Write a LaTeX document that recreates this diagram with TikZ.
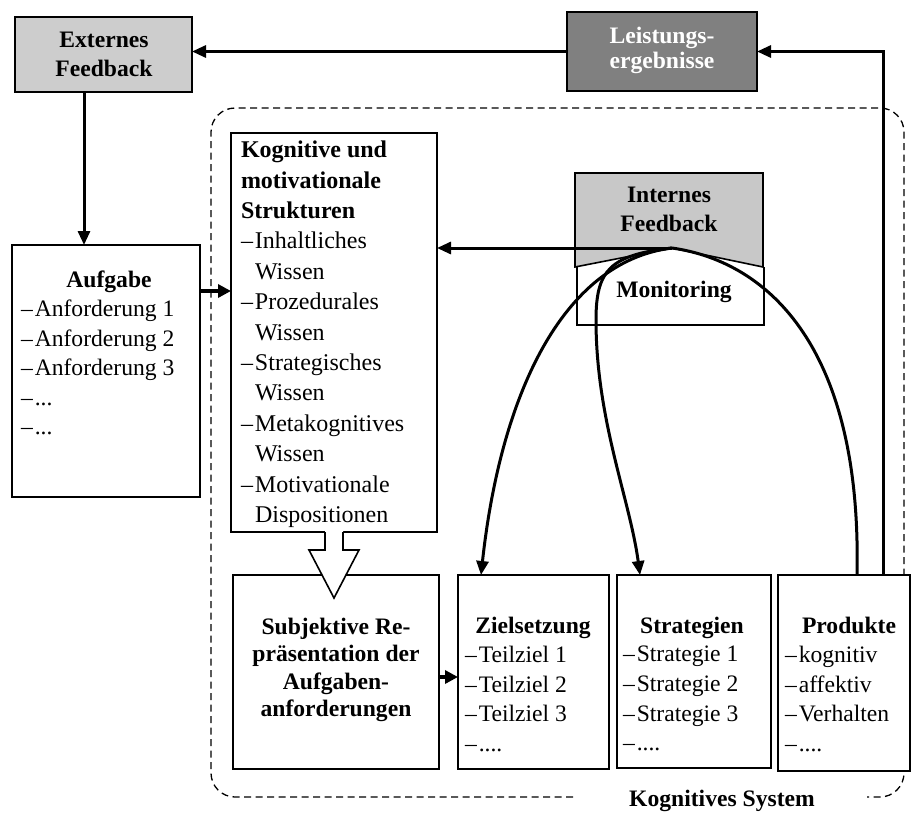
\documentclass[tikz,border=0pt]{standalone}
\usepackage{fontspec}
\setmainfont{Liberation Serif}
\usetikzlibrary{arrows.meta,calc}
\definecolor{lightg}{RGB}{205,205,205}
\definecolor{midg}{RGB}{200,200,200}
\definecolor{darkg}{RGB}{128,128,128}
\begin{document}
\begin{tikzpicture}[x=1pt,y=-1pt,
  every node/.style={inner sep=0pt, outer sep=0pt, font=\fontsize{23.6}{29.5}\selectfont},
  box/.style={draw, line width=1.6pt, fill=white, rectangle},
  head/.style={anchor=north, align=center, font=\bfseries\fontsize{23.6}{29}\selectfont},
  lst/.style={anchor=north west, align=left},
  conn/.style={line width=3pt, -{Triangle[length=14pt,width=12pt]}},
  plain/.style={line width=3pt},
  heavy/.style={line width=4pt, -{Triangle[length=13pt,width=13pt]}},
  frame/.style={line width=1.3pt, dash pattern=on 7pt off 4.5pt, rounded corners=24pt}]
\useasboundingbox (0,0) rectangle (911,814);

% dashed frame of the cognitive system
\draw[frame] (573,797) -- (211,797) -- (211,108) -- (904,108) -- (904,797) -- (867,797);

% boxes
\node[box, fill=lightg, minimum width=177pt, minimum height=75pt] (ext) at (103.5,54.5) {};
\node[box, fill=darkg, minimum width=190pt, minimum height=79pt] (leist) at (662,51.5) {};
\node[box, minimum width=188pt, minimum height=252pt] (auf) at (106,371) {};
\node[box, minimum width=206pt, minimum height=399pt] (kog) at (334,332.5) {};
\node[box, minimum width=206pt, minimum height=194pt] (subj) at (336,672) {};
\node[box, minimum width=151pt, minimum height=194pt] (ziel) at (533.5,672) {};
\node[box, minimum width=154pt, minimum height=193pt] (strat) at (694,671.5) {};
\node[box, minimum width=132pt, minimum height=196pt] (prod) at (844,673) {};

% monitoring box (open at top) and internal feedback shape
\node[minimum width=187pt, minimum height=58pt] (mon) at (670.5,296) {};
\draw[line width=1.6pt] (mon.north west) -- (mon.south west) -- (mon.south east) -- (mon.north east);
\coordinate (apex) at (672,248);
\filldraw[fill=midg, line width=1.6pt, line join=miter] (575,173) -- (763,173) -- (763,267) -- (apex) -- (575,267) -- cycle;

% texts
\node[head] (extT) at (104,32.5) {Externes\\Feedback};
\node[head, text=white, font=\bfseries\fontsize{23.6}{25.5}\selectfont] (leistT) at (662,27) {Leistungs-\\ergebnisse};
\node[head] (intT) at (669,187) {Internes\\Feedback};
\node[head] (monT) at (674,281) {Monitoring};
\node[head] (aufT) at (109,270.5) {Aufgabe};
\node[lst] (aufL) at (21,300) {–\kern2pt Anforderung 1\\–\kern2pt Anforderung 2\\–\kern2pt Anforderung 3\\–\kern2pt ...\\–\kern2pt ...};
\node[lst, font=\fontsize{24}{30.4}\selectfont] (kogT) at (241,141) {\textbf{Kognitive und}\\\textbf{motivationale}\\\textbf{Strukturen}\\–\kern2pt Inhaltliches\\\hphantom{–\kern2pt}Wissen\\–\kern2pt Prozedurales\\\hphantom{–\kern2pt}Wissen\\–\kern2pt Strategisches\\\hphantom{–\kern2pt}Wissen\\–\kern2pt Metakognitives\\\hphantom{–\kern2pt}Wissen\\–\kern2pt Motivationale\\\hphantom{–\kern2pt}Dispositionen};
\node[head, font=\bfseries\fontsize{23.6}{27.4}\selectfont] (subjT) at (336,618) {Subjektive Re-\\präsentation der\\Aufgaben-\\anforderungen};
\node[head] (zielT) at (533,617) {Zielsetzung};
\node[lst, font=\fontsize{23.6}{29.7}\selectfont] (zielL) at (465,646) {–\kern2pt Teilziel 1\\–\kern2pt Teilziel 2\\–\kern2pt Teilziel 3\\–\kern2pt ....};
\node[head] (stratT) at (692,617) {Strategien};
\node[lst, font=\fontsize{23.6}{29.7}\selectfont] (stratL) at (623,646) {–\kern2pt Strategie 1\\–\kern2pt Strategie 2\\–\kern2pt Strategie 3\\–\kern2pt ....};
\node[head] (prodT) at (849,617) {Produkte};
\node[lst, font=\fontsize{23.6}{29.7}\selectfont] (prodL) at (785,646) {–\kern2pt kognitiv\\–\kern2pt affektiv\\–\kern2pt Verhalten\\–\kern2pt ....};
\node[head] (sysT) at (722,790) {Kognitives System};

% hollow block arrow from structures to representation
\fill[white] (325,530) -- (325,550) -- (309,550) -- (334,598) -- (359,550) -- (343,550) -- (343,530) -- cycle;
\draw[line width=1.6pt, line join=miter] (325,532) -- (325,550) -- (309,550) -- (334,598) -- (359,550) -- (343,550) -- (343,532);

% connectors
\coordinate (e1) at (84,92);
\coordinate (a1) at (84,245);
\draw[conn] (e1 |- ext.south) -- (a1 |- auf.north);
\draw[conn] (leist.west) -- (ext.east |- leist.west);
\coordinate (p1) at (883,575);
\draw[conn] (p1 |- prod.north) |- (leist.east);
\coordinate (k1) at (0,291);
\draw[heavy] (auf.east |- k1) -- (kog.west |- k1);
\coordinate (s1) at (0,677);
\draw[heavy] (subj.east |- s1) -- (ziel.west |- s1);
\draw[conn] (apex) -- (kog.east |- apex);
\coordinate (z1) at (481,575);
\coordinate (t1) at (640,575);
\coordinate (q1) at (857,575);
\draw[conn] (apex) .. controls (560,262) and (500,400) .. (z1 |- ziel.north);
\draw[conn] (apex) .. controls (610,255) and (596,270) .. (596,320) .. controls (596,420) and (630,500) .. (t1 |- strat.north);
\draw[plain] (q1 |- prod.north) .. controls (862,350) and (770,262) .. (apex);
\end{tikzpicture}
\end{document}
